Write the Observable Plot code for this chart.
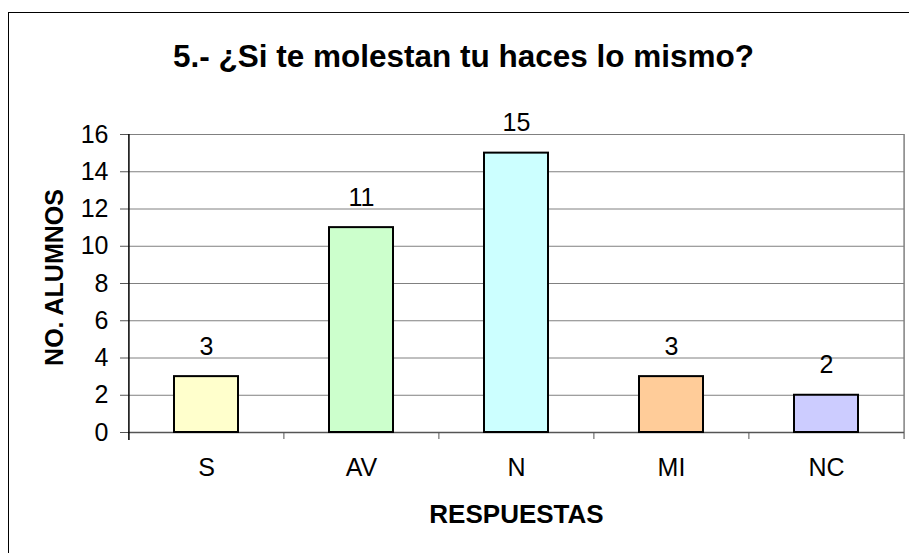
<!DOCTYPE html>
<html><head><meta charset="utf-8">
<script src="https://cdn.jsdelivr.net/npm/d3@7"></script>
<script src="https://cdn.jsdelivr.net/npm/@observablehq/plot@0.6"></script>
<style>
body{margin:0;background:#fff;}
#wrap{position:relative;width:909px;height:553px;overflow:hidden;}
#wrap svg{position:absolute;left:0;top:0;}
#border{position:absolute;left:8px;top:12px;width:910px;height:560px;border:1px solid #000;box-sizing:border-box;pointer-events:none;}
</style></head><body><div id="wrap"><div id="border"></div></div>
<script>
const categories = ["S", "AV", "N", "MI", "NC"];
const values = [3, 11, 15, 3, 2];
const colors = ["#FFFFCC", "#CCFFCC", "#CCFFFF", "#FFCC99", "#CCCCFF"];
const yTicks = [0, 2, 4, 6, 8, 10, 12, 14, 16];
const title = "5.- ¿Si te molestan tu haces lo mismo?";
const yLabel = "NO. ALUMNOS";
const xLabel = "RESPUESTAS";

const data = categories.map((c, i) => ({cat: c, value: values[i]}));
const W = 909, H = 553, ML = 128, MR = 5, MT = 134, MB = 121;
const step = (W - ML - MR) / categories.length;
const plotH = H - MT - MB;
const font = "'Liberation Sans', Arial, sans-serif";

const plot = Plot.plot({
  width: W, height: H,
  marginLeft: ML, marginRight: MR, marginTop: MT, marginBottom: MB,
  style: {fontFamily: font, background: "transparent", color: "#000", overflow: "visible"},
  x: {domain: categories, paddingInner: 0.588, paddingOuter: 0.294, label: null, axis: null},
  y: {domain: [0, 16], label: null, axis: null},
  color: {domain: categories, range: colors},
  marks: [
    Plot.gridY(yTicks, {stroke: "#808080", strokeOpacity: 1, strokeWidth: 1}),
    // right edge of plot area
    Plot.ruleX([categories[categories.length - 1]], {x: d => d, dx: step / 2, insetBottom: -7, stroke: "#808080", strokeWidth: 1.5}),
    // category boundary ticks
    Plot.ruleX(categories.slice(1), {x: d => d, dx: -step / 2, insetTop: plotH, insetBottom: -7, stroke: "#555"}),
    Plot.ruleY([0], {stroke: "#555", strokeWidth: 1.5}),
    Plot.barY(data, {x: "cat", y: "value", fill: "cat", stroke: "#000", strokeWidth: 2}),
    Plot.text(data, {x: "cat", y: "value", text: d => String(d.value), dy: -30, fontSize: 25, lineAnchor: "middle", fill: "#000"}),
    // y axis line
    Plot.ruleX([categories[0]], {x: d => d, dx: -step / 2, insetBottom: -8, stroke: "#000", strokeWidth: 1.5}),
    Plot.axisY(yTicks, {tickSize: 8, tickPadding: 12, fontSize: 25, stroke: "#555", fill: "#000"}),
    Plot.axisX({tickSize: 0, tickPadding: 26, fontSize: 25, fill: "#000"}),
    Plot.text([title], {text: d => d, frameAnchor: "top", dx: -53, dy: -78, fontSize: 31.5, fontWeight: "bold", lineAnchor: "middle", fill: "#000"}),
    Plot.text([yLabel], {text: d => d, frameAnchor: "left", textAnchor: "middle", rotate: -90, dx: -74, dy: -6, fontSize: 25, fontWeight: "bold", lineAnchor: "middle", fill: "#000"}),
    Plot.text([xLabel], {text: d => d, frameAnchor: "bottom", dy: 82, fontSize: 26, fontWeight: "bold", lineAnchor: "middle", fill: "#000"})
  ]
});
document.getElementById("wrap").insertBefore(plot, document.getElementById("border"));
</script>
</body></html>
